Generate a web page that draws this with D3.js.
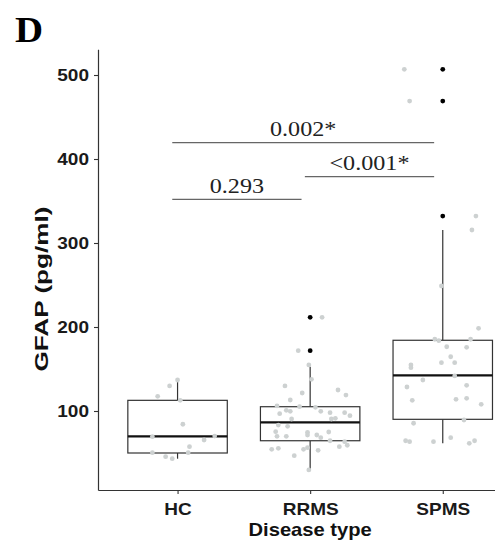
<!DOCTYPE html>
<html><head><meta charset="utf-8">
<script src="https://cdn.jsdelivr.net/npm/d3@7"></script>
<style>html,body{margin:0;padding:0;background:#fff;}</style>
</head><body>
<svg id="chart" width="495" height="545"></svg>
<script>
// ---------- data ----------
const categories = ["HC", "RRMS", "SPMS"];
const yTicks = [100, 200, 300, 400, 500];

// box statistics per category
const q1 = [50.0, 64.6, 90.1];
const medians = [69.9, 86.5, 142.5];
const q3 = [112.7, 105.1, 184.2];
const whiskerLow = [43.2, 29.8, 61.5];
const whiskerHigh = [136.9, 152.7, 315.5];

// boxplot outliers
const outliersHC = [];
const outliersRRMS = [211.5, 171.8];
const outliersSPMS = [506.8, 469.0, 332.1];

// jittered observations (value, jitter in category-step units)
const hcValues = [136.9,129.8,117.5,112.7,84.2,69.4,70.2,65.5,57.5,50.4,50.4,45.6,43.2];
const hcJitter = [0.00,-0.06,-0.15,0.02,0.04,-0.19,0.28,0.20,0.09,-0.19,0.08,-0.09,-0.04];

const rrmsValues = [211.5,171.8,154.8,137.7,129.8,121.4,125,119,113.1,106,105.1,104.4,100.8,99.6,96.8,99.6,98,98,94.4,90.5,90.5,91.3,83.3,81.8,75.4,74.6,71.4,69.9,69.9,71.4,68.2,75,64.6,63.5,59.2,57.5,54.4,55.6,54.4,56.3,53.2,46.8,29.8];
const rrmsJitter = [0.09,-0.09,-0.01,0.01,-0.19,-0.06,0.21,0.27,-0.15,-0.25,-0.08,0.04,-0.18,-0.15,-0.23,0.08,0.15,0.26,0.30,-0.14,0.16,0.19,-0.24,-0.17,-0.26,-0.02,-0.02,-0.25,-0.18,0.05,0.08,0.14,0.15,0.26,0.28,0.22,-0.29,-0.24,-0.05,-0.02,0.06,-0.12,-0.01];

const spmsValues = [506.8,469,332.1,315.5,248.8,198.4,185.4,183.7,185.4,176.5,175.8,164.6,154.8,151.6,157.5,157.5,141.7,136.9,128.6,130.6,112.7,113.9,115.1,108,89.3,85.4,68.2,64.6,63.5,63.5,61.5,64.6];
const spmsJitter = [-0.29,-0.25,0.25,0.22,-0.01,0.27,-0.06,-0.03,0.21,0.03,0.18,0.06,-0.24,-0.24,-0.01,0.09,0.09,-0.15,-0.27,0.18,-0.23,0.10,0.18,0.29,0.16,-0.22,0.06,-0.28,-0.25,-0.07,0.20,0.24];

// significance brackets
const sigLabels = ["0.293", "<0.001*", "0.002*"];
const sigFrom = ["HC", "RRMS", "HC"];
const sigTo = ["RRMS", "SPMS", "SPMS"];
const sigLevel = [352, 379, 419.5];

// ---------- layout ----------
const svg = d3.select("#chart");
const plotLeft = 98, plotTop = 49.3, plotBottom = 490;
const stepPx = 132.6;
const plotRight = plotLeft + 3.2 * stepPx;
const x = d3.scalePoint().domain(categories).range([plotLeft, plotRight]).padding(0.6);
const step = x.step();
const y = d3.scaleLinear().domain([5.95, 530.6]).range([plotBottom, plotTop]);
const sx = 1.12; // horizontal glyph stretch of the reference

const boxW = 0.75 * step;
const lineCol = "#333333";

// boxes
const g = svg.append("g");
categories.forEach((c, i) => {
  const cx = x(c);
  g.append("line").attr("x1", cx).attr("x2", cx).attr("y1", y(q3[i])).attr("y2", y(whiskerHigh[i]))
    .attr("stroke", lineCol).attr("stroke-width", 1.2);
  g.append("line").attr("x1", cx).attr("x2", cx).attr("y1", y(q1[i])).attr("y2", y(whiskerLow[i]))
    .attr("stroke", lineCol).attr("stroke-width", 1.2);
  g.append("rect").attr("x", cx - boxW / 2).attr("width", boxW)
    .attr("y", y(q3[i])).attr("height", y(q1[i]) - y(q3[i]))
    .attr("fill", "#fff").attr("stroke", lineCol).attr("stroke-width", 1.2);
  g.append("line").attr("x1", cx - boxW / 2).attr("x2", cx + boxW / 2)
    .attr("y1", y(medians[i])).attr("y2", y(medians[i]))
    .attr("stroke", "#111").attr("stroke-width", 2.3);
});

// outliers
[[outliersHC, "HC"], [outliersRRMS, "RRMS"], [outliersSPMS, "SPMS"]].forEach(([arr, c]) => {
  g.selectAll(null).data(arr).enter().append("circle")
    .attr("cx", x(c)).attr("cy", d => y(d)).attr("r", 2.4).attr("fill", "#000");
});

// jittered points
[[hcValues, hcJitter, "HC"], [rrmsValues, rrmsJitter, "RRMS"], [spmsValues, spmsJitter, "SPMS"]].forEach(([vals, jit, c]) => {
  g.selectAll(null).data(vals.map((v, k) => ({v, j: jit[k]}))).enter().append("circle")
    .attr("cx", d => x(c) + d.j * step).attr("cy", d => y(d.v)).attr("r", 2.4)
    .attr("fill", "#cdd1d1");
});

// significance annotations
sigLabels.forEach((lab, i) => {
  const x1 = x(sigFrom[i]) - 0.04 * step, x2 = x(sigTo[i]) - 0.065 * step;
  const yy = y(sigLevel[i]);
  svg.append("line").attr("x1", x1).attr("x2", x2).attr("y1", yy).attr("y2", yy)
    .attr("stroke", "#666").attr("stroke-width", 1.2);
  svg.append("text")
    .attr("transform", `translate(${(x1 + x2) / 2},${yy - 6.5}) scale(1.15,1)`)
    .attr("text-anchor", "middle")
    .attr("font-family", "Liberation Serif, Times New Roman, serif")
    .attr("font-size", 21).attr("fill", "#222").text(lab);
});

// axes
const yAxis = d3.axisLeft(y).tickValues(yTicks).tickSize(4).tickSizeOuter(0).tickPadding(5);
const ya = svg.append("g").attr("transform", `translate(${plotLeft},0)`).call(yAxis);
const xAxis = d3.axisBottom(x).tickSize(4).tickSizeOuter(0).tickPadding(9);
const xa = svg.append("g").attr("transform", `translate(0,${plotBottom})`).call(xAxis);
[ya, xa].forEach(a => {
  a.select(".domain").attr("stroke", lineCol).attr("stroke-width", 1.2);
  a.selectAll(".tick line").attr("stroke", lineCol).attr("stroke-width", 1.1);
  a.selectAll(".tick text").attr("font-family", "Liberation Sans, Arial, sans-serif")
    .attr("font-weight", "bold").attr("font-size", 17).attr("fill", "#1a1a1a");
});
// horizontal stretch of tick labels
ya.selectAll(".tick text").each(function() {
  const t = d3.select(this);
  t.attr("transform", `translate(-9,0) scale(${sx},1)`).attr("x", 0).attr("dy", "0.35em").attr("text-anchor", "end");
});
xa.selectAll(".tick text").attr("transform", `scale(${sx},1)`).attr("dy", "0.71em");

// axis titles
svg.append("text")
  .attr("transform", `translate(${x("RRMS")},535.5) scale(${sx},1)`)
  .attr("text-anchor", "middle").attr("font-family", "Liberation Sans, Arial, sans-serif")
  .attr("font-weight", "bold").attr("font-size", 18).attr("fill", "#111").text("Disease type");
svg.append("text")
  .attr("transform", `translate(48,289) rotate(-90)`)
  .attr("text-anchor", "middle").attr("font-family", "Liberation Sans, Arial, sans-serif")
  .attr("font-weight", "bold").attr("font-size", 18).attr("fill", "#111")
  .attr("textLength", 165).attr("lengthAdjust", "spacingAndGlyphs").text("GFAP (pg/ml)");

// panel label
svg.append("text")
  .attr("transform", `translate(15,42) scale(1.08,1)`)
  .attr("font-family", "Liberation Serif, Times New Roman, serif")
  .attr("font-weight", "bold").attr("font-size", 36).attr("fill", "#000").text("D");
</script>
</body></html>
